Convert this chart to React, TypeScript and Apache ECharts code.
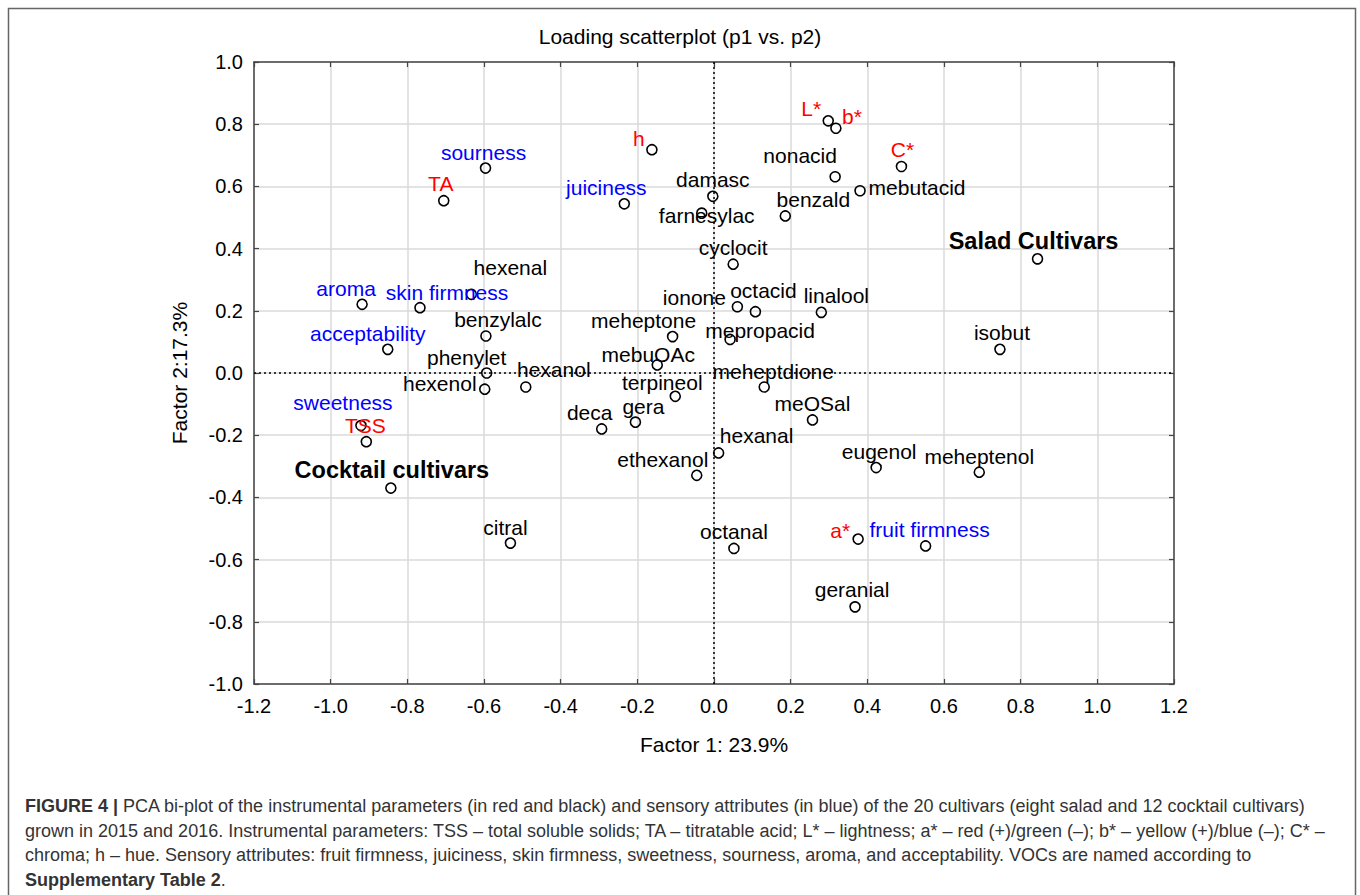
import React, { useEffect, useRef } from "react";
import * as echarts from "echarts";

// ---- data ----
const names = [
  "sourness", "TA", "h", "juiciness", "damasc", "farnesylac", "hexenal", "aroma",
  "skin firmness", "acceptability", "benzylalc", "meheptone", "mebuOAc", "phenylet",
  "hexenol", "hexanol", "sweetness", "TSS", "Cocktail cultivars", "citral", "deca",
  "gera", "terpineol", "ethexanol", "L*", "b*", "C*", "nonacid", "mebutacid", "benzald",
  "Salad Cultivars", "cyclocit", "ionone", "octacid", "linalool", "mepropacid", "isobut",
  "meheptdione", "meOSal", "hexanal", "eugenol", "meheptenol", "octanal", "a*",
  "fruit firmness", "geranial",
];
const factor1 = [
  -0.596, -0.705, -0.162, -0.234, -0.003, -0.032, -0.633, -0.918,
  -0.767, -0.851, -0.595, -0.108, -0.148, -0.593,
  -0.598, -0.491, -0.921, -0.907, -0.843, -0.531, -0.293,
  -0.205, -0.101, -0.045, 0.298, 0.318, 0.489, 0.316, 0.381, 0.186,
  0.844, 0.05, 0.061, 0.108, 0.28, 0.042, 0.746,
  0.131, 0.257, 0.012, 0.423, 0.692, 0.052, 0.376,
  0.552, 0.368,
];
const factor2 = [
  0.659, 0.554, 0.718, 0.544, 0.568, 0.514, 0.253, 0.221,
  0.21, 0.076, 0.119, 0.117, 0.026, 0.0,
  -0.052, -0.045, -0.169, -0.221, -0.37, -0.547, -0.18,
  -0.158, -0.075, -0.329, 0.811, 0.787, 0.664, 0.631, 0.586, 0.505,
  0.367, 0.35, 0.213, 0.197, 0.195, 0.108, 0.076,
  -0.045, -0.151, -0.257, -0.304, -0.319, -0.564, -0.534,
  -0.556, -0.752,
];
// group: i = instrumental (red), s = sensory (blue), v = VOC (black), c = cultivar group (bold)
const groups = [
  "s", "i", "i", "s", "v", "v", "v", "s",
  "s", "s", "v", "v", "v", "v",
  "v", "v", "s", "i", "c", "v", "v",
  "v", "v", "v", "i", "i", "i", "v", "v", "v",
  "c", "v", "v", "v", "v", "v", "v",
  "v", "v", "v", "v", "v", "v", "i",
  "s", "v",
];
const xTicks = { min: -1.2, max: 1.2, step: 0.2 };
const yTicks = { min: -1.0, max: 1.0, step: 0.2 };

// ---- layout (label offsets in px, relative to point) ----
const labelOffsets: number[][] = [
  [-2, -16], [-3, -17], [-13, -11], [-18, -16], [0, -17], [5, 2], [39, -27], [-16, -16],
  [27, -15], [-20, -16], [12, -16], [-29, -16], [-9, -10], [-20, -16],
  [-45, -6], [28, -17], [-18, -23], [-1, -16], [1, -18], [-5, -16], [-12, -16],
  [8, -16], [-13, -14], [-34, -16], [-17, -12], [16, -12], [1, -17], [-35, -21], [57, -3], [28, -16],
  [-4, -18], [0, -17], [-43, -9], [8, -21], [15, -17], [30, -9], [2, -17],
  [9, -15], [0, -16], [38, -17], [3, -16], [0, -16], [0, -17], [-18, -9],
  [4, -16], [-3, -17],
];

const FONT = "'Liberation Sans', Arial, Helvetica, sans-serif";
const groupStyle: Record<string, any> = {
  i: { color: "#ff0000", fontSize: 21, fontWeight: "normal" },
  s: { color: "#0000ff", fontSize: 21, fontWeight: "normal" },
  v: { color: "#000000", fontSize: 21, fontWeight: "normal" },
  c: { color: "#000000", fontSize: 23.5, fontWeight: "bold" },
};

const captionLines = [
  "{b|FIGURE 4 |} PCA bi-plot of the instrumental parameters (in red and black) and sensory attributes (in blue) of the 20 cultivars (eight salad and 12 cocktail cultivars)",
  "grown in 2015 and 2016. Instrumental parameters: TSS – total soluble solids; TA – titratable acid; L* – lightness; a* – red (+)/green (–); b* – yellow (+)/blue (–); C* –",
  "chroma; h – hue. Sensory attributes: fruit firmness, juiciness, skin firmness, sweetness, sourness, aroma, and acceptability. VOCs are named according to",
  "{b|Supplementary Table 2}.",
];

const fmt = (v: number) => (Math.abs(v) < 1e-9 ? "0.0" : v.toFixed(1));

export default function App() {
  const ref = useRef<HTMLDivElement>(null);
  useEffect(() => {
    if (!ref.current) return;
    const chart = echarts.init(ref.current, undefined, { renderer: "svg" });
    const data = names.map((n, i) => {
      const st = groupStyle[groups[i]];
      return {
        name: n,
        value: [factor1[i], factor2[i]],
        label: {
          color: st.color,
          fontSize: st.fontSize,
          fontWeight: st.fontWeight,
          opacity: 1,
        },
      };
    });
    const axisLine = { show: true, onZero: false, lineStyle: { color: "#444", width: 1.5 } };
    const axisTick = { show: true, inside: true, length: 5, lineStyle: { color: "#444", width: 1.2 } };
    const splitLine = { show: true, lineStyle: { color: "#dadada", width: 1.5 } };
    chart.setOption({
      animation: false,
      backgroundColor: "#fff",
      title: {
        text: "Loading scatterplot (p1 vs. p2)",
        left: "center",
        top: 21,
        textStyle: { fontSize: 21, fontWeight: "normal", color: "#000", fontFamily: FONT },
      },
      grid: { left: 254, right: 186, top: 62, bottom: 211, containLabel: false },
      xAxis: [
        {
          type: "value",
          min: xTicks.min,
          max: xTicks.max,
          interval: xTicks.step,
          position: "bottom",
          axisLine,
          axisTick,
          splitLine,
          axisLabel: { formatter: fmt, fontSize: 20, color: "#000", margin: 12, fontFamily: FONT },
          name: "Factor 1: 23.9%",
          nameLocation: "middle",
          nameGap: 50,
          nameTextStyle: { fontSize: 21, color: "#000", fontFamily: FONT },
        },
        {
          type: "value",
          min: xTicks.min,
          max: xTicks.max,
          interval: xTicks.step,
          position: "top",
          axisLine,
          axisTick,
          splitLine: { show: false },
          axisLabel: { show: false },
        },
      ],
      yAxis: [
        {
          type: "value",
          min: yTicks.min,
          max: yTicks.max,
          interval: yTicks.step,
          position: "left",
          axisLine,
          axisTick,
          splitLine,
          axisLabel: { formatter: fmt, fontSize: 20, color: "#000", margin: 11, fontFamily: FONT },
          name: "Factor 2:17.3%",
          nameLocation: "middle",
          nameGap: 64,
          nameTextStyle: { fontSize: 21, color: "#000", fontFamily: FONT },
        },
        {
          type: "value",
          min: yTicks.min,
          max: yTicks.max,
          interval: yTicks.step,
          position: "right",
          axisLine,
          axisTick,
          splitLine: { show: false },
          axisLabel: { show: false },
        },
      ],
      series: [
        {
          type: "scatter",
          xAxisIndex: 0,
          yAxisIndex: 0,
          symbol: "circle",
          symbolSize: 10,
          itemStyle: { color: "rgba(0,0,0,0)", borderColor: "#000", borderWidth: 1.6, opacity: 1 },
          label: {
            show: true,
            position: "inside",
            formatter: "{b}",
            fontFamily: FONT,
          },
          labelLayout: (params: any) => {
            const o = labelOffsets[params.dataIndex] || [0, 0];
            return { dx: o[0], dy: o[1], hideOverlap: false };
          },
          markLine: {
            silent: true,
            symbol: ["none", "none"],
            label: { show: false },
            lineStyle: { type: [2, 3], color: "#000", width: 1.5 },
            data: [{ xAxis: 0 }, { yAxis: 0 }],
          },
          data,
          z: 3,
        },
      ],
      graphic: [
        {
          type: "rect",
          shape: { x: 8.5, y: 8.5, width: 1347, height: 910 },
          style: { fill: "none", stroke: "#666", lineWidth: 1.5 },
          silent: true,
        },
        ...captionLines.map((t, i) => ({
          type: "text",
          left: 25,
          top: 797 + i * 24.7,
          style: {
            text: t,
            fontSize: 18,
            fontFamily: FONT,
            fill: "#333",
            rich: { b: { fontWeight: "bold", fontSize: 18, fontFamily: FONT, fill: "#333" } },
          },
          silent: true,
        })),
      ],
    });
    return () => chart.dispose();
  }, []);
  return (
    <div
      ref={ref}
      style={{ position: "absolute", left: 0, top: 0, width: 1360, height: 895 }}
    />
  );
}
